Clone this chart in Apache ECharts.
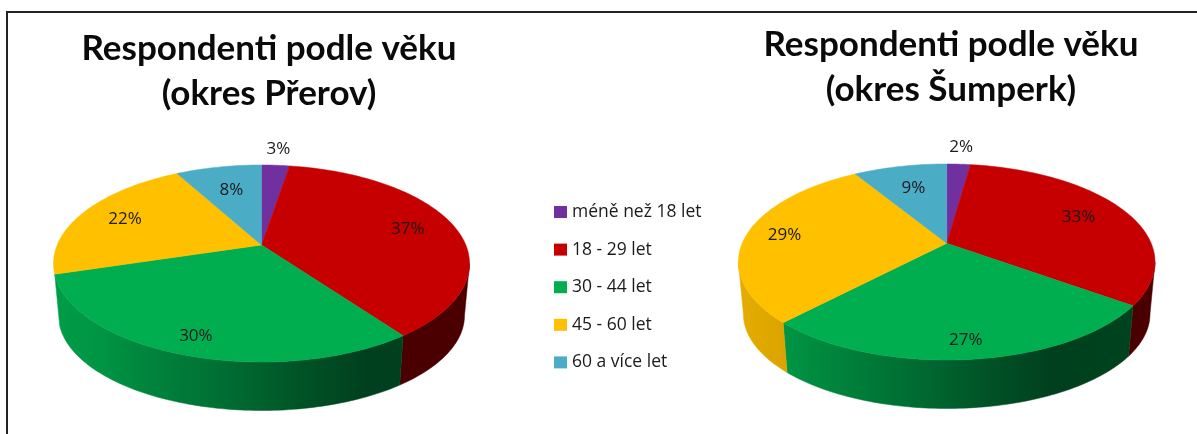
<!DOCTYPE html>
<html>
<head>
<meta charset="utf-8">
<title>Respondenti podle věku</title>
<script src="https://cdn.jsdelivr.net/npm/echarts@6/dist/echarts.min.js"></script>
<style>
  html, body { margin: 0; padding: 0; background: #fff; }
  #chart { width: 1197px; height: 434px; }
</style>
</head>
<body>
<div id="chart"></div>
<script>
// data (slice sizes in %, labels are the rounded values)
const categories = ['méně než 18 let', '18 - 29 let', '30 - 44 let', '45 - 60 let', '60 a více let'];
const prerov = [2.6, 37.4, 30.3, 21.7, 8.0];
const sumperk = [2.2, 32.8, 27.1, 29.2, 8.7];
const titles = ['Respondenti podle věku\n(okres Přerov)', 'Respondenti podle věku\n(okres Šumperk)'];
const colors = ['#7030a0', '#c60000', '#00ae50', '#ffc000', '#4bacc6'];

const TITLE_FONT = 'Lato, "Open Sans", sans-serif';
const TEXT_FONT = '"Open Sans", Lato, sans-serif';

// look of the two tilted discs, k = shift of the disc centre caused by the perspective
const pies = [
  { values: prerov, cx: 261.5, cy: 263.5, rx: 208, ry: 98.5, k: -0.188, labelR: [1.25, 0.76, 0.856, 0.76, 0.666] },
  { values: sumperk, cx: 946.7, cy: 262, rx: 208.3, ry: 98, k: -0.191, labelR: [1.267, 0.739, 0.859, 0.811, 0.68] }
];
const depth = { dy: 52, dx: 5, dry: 3.5 };

// how much the side wall is darkened from left to right
const wallShade = [[0, 0.9], [0.12, 0.85], [0.2, 0.78], [0.45, 0.6], [0.6, 0.47], [0.75, 0.37], [1, 0.38]];

function shade(hex, f) {
  const c = echarts.color.parse(hex);
  return 'rgb(' + Math.round(c[0] * f) + ',' + Math.round(c[1] * f) + ',' + Math.round(c[2] * f) + ')';
}

// angle from 12 o'clock, clockwise -> point on the tilted disc
function project(pie, angle, r, lower) {
  const x0 = Math.sin(angle) * r;
  const v0 = -Math.cos(angle) * r;
  const k = pie.k;
  const d = 1 + k * v0;
  const u = (v0 + k) / d;
  const x = x0 * Math.sqrt(1 - k * k) / d;
  if (lower) {
    return [pie.cx + x * (pie.rx - depth.dx), pie.cy + depth.dy + u * (pie.ry - depth.dry)];
  }
  return [pie.cx + x * pie.rx, pie.cy + u * pie.ry];
}

function arc(pie, a0, a1, lower) {
  const pts = [];
  const n = Math.max(2, Math.ceil((a1 - a0) / 0.02));
  for (let i = 0; i <= n; i++) {
    pts.push(project(pie, a0 + (a1 - a0) * i / n, 1, lower));
  }
  return pts;
}

function renderSlice(params, api) {
  const pie = pies[params.dataIndex];
  const cat = params.seriesIndex;
  const total = pie.values.reduce((a, b) => a + b, 0);
  let before = 0;
  for (let i = 0; i < cat; i++) before += pie.values[i];
  const value = api.value(0);
  const a0 = before / total * Math.PI * 2;
  const a1 = (before + value) / total * Math.PI * 2;
  const color = colors[cat];
  const children = [];

  // only the part of the wall that faces the viewer, it ends on the widest point of the disc
  // (a wall thinner than about 8 degrees is just a sliver on the rim, the original has none)
  const front = Math.acos(pie.k);
  const w0 = Math.max(a0, front);
  const w1 = Math.min(a1, Math.PI * 2 - front);
  if (w1 - w0 > 0.15) {
    const wallFill = new echarts.graphic.LinearGradient(
      pie.cx - pie.rx, 0, pie.cx + pie.rx, 0,
      wallShade.map(s => ({ offset: s[0], color: shade(color, s[1]) })),
      true
    );
    children.push({
      type: 'polygon', z2: 1,
      shape: { points: arc(pie, w0, w1, false).concat(arc(pie, w0, w1, true).reverse()) },
      style: { fill: wallFill, stroke: wallFill, lineWidth: 0.5 }
    });
  }

  children.push({
    type: 'polygon', z2: 10,
    shape: { points: [project(pie, 0, 0, false)].concat(arc(pie, a0, a1, false)) },
    style: { fill: color, stroke: color, lineWidth: 0.5 }
  });

  const labelPos = project(pie, (a0 + a1) / 2, pie.labelR[cat], false);
  children.push({
    type: 'text', z2: 20,
    x: labelPos[0], y: labelPos[1],
    style: {
      text: Math.round(value) + '%',
      fill: '#1a1a1a',
      font: '17px ' + TEXT_FONT,
      align: 'center',
      verticalAlign: 'middle'
    }
  });

  return { type: 'group', children: children };
}

const chart = echarts.init(document.getElementById('chart'), null, { renderer: 'canvas' });

chart.setOption({
  animation: false,
  backgroundColor: '#fff',
  title: [
    { text: titles[0], left: 269, top: 26 },
    { text: titles[1], left: 951, top: 22 }
  ].map(t => Object.assign(t, {
    textAlign: 'center',
    padding: 0,
    textStyle: { fontFamily: TITLE_FONT, fontWeight: 'bold', fontSize: 35, lineHeight: 45, color: '#0a0a0a' }
  })),
  legend: {
    orient: 'vertical',
    left: 554,
    top: 202,
    padding: 0,
    icon: 'rect',
    itemWidth: 13,
    itemHeight: 12,
    itemGap: 17.6,
    data: categories,
    selectedMode: false,
    textStyle: { fontFamily: TEXT_FONT, fontSize: 17.5, color: '#1a1a1a', height: 20, lineHeight: 20 }
  },
  graphic: [{
    type: 'polyline',
    shape: { points: [[1197, 12], [7, 12], [7, 434]] },
    style: { stroke: '#222', lineWidth: 2, fill: null }
  }],
  series: categories.map((name, i) => ({
    type: 'custom',
    name: name,
    coordinateSystem: 'none',
    renderItem: renderSlice,
    itemStyle: { color: colors[i] },
    data: [prerov[i], sumperk[i]]
  }))
});
</script>
</body>
</html>
